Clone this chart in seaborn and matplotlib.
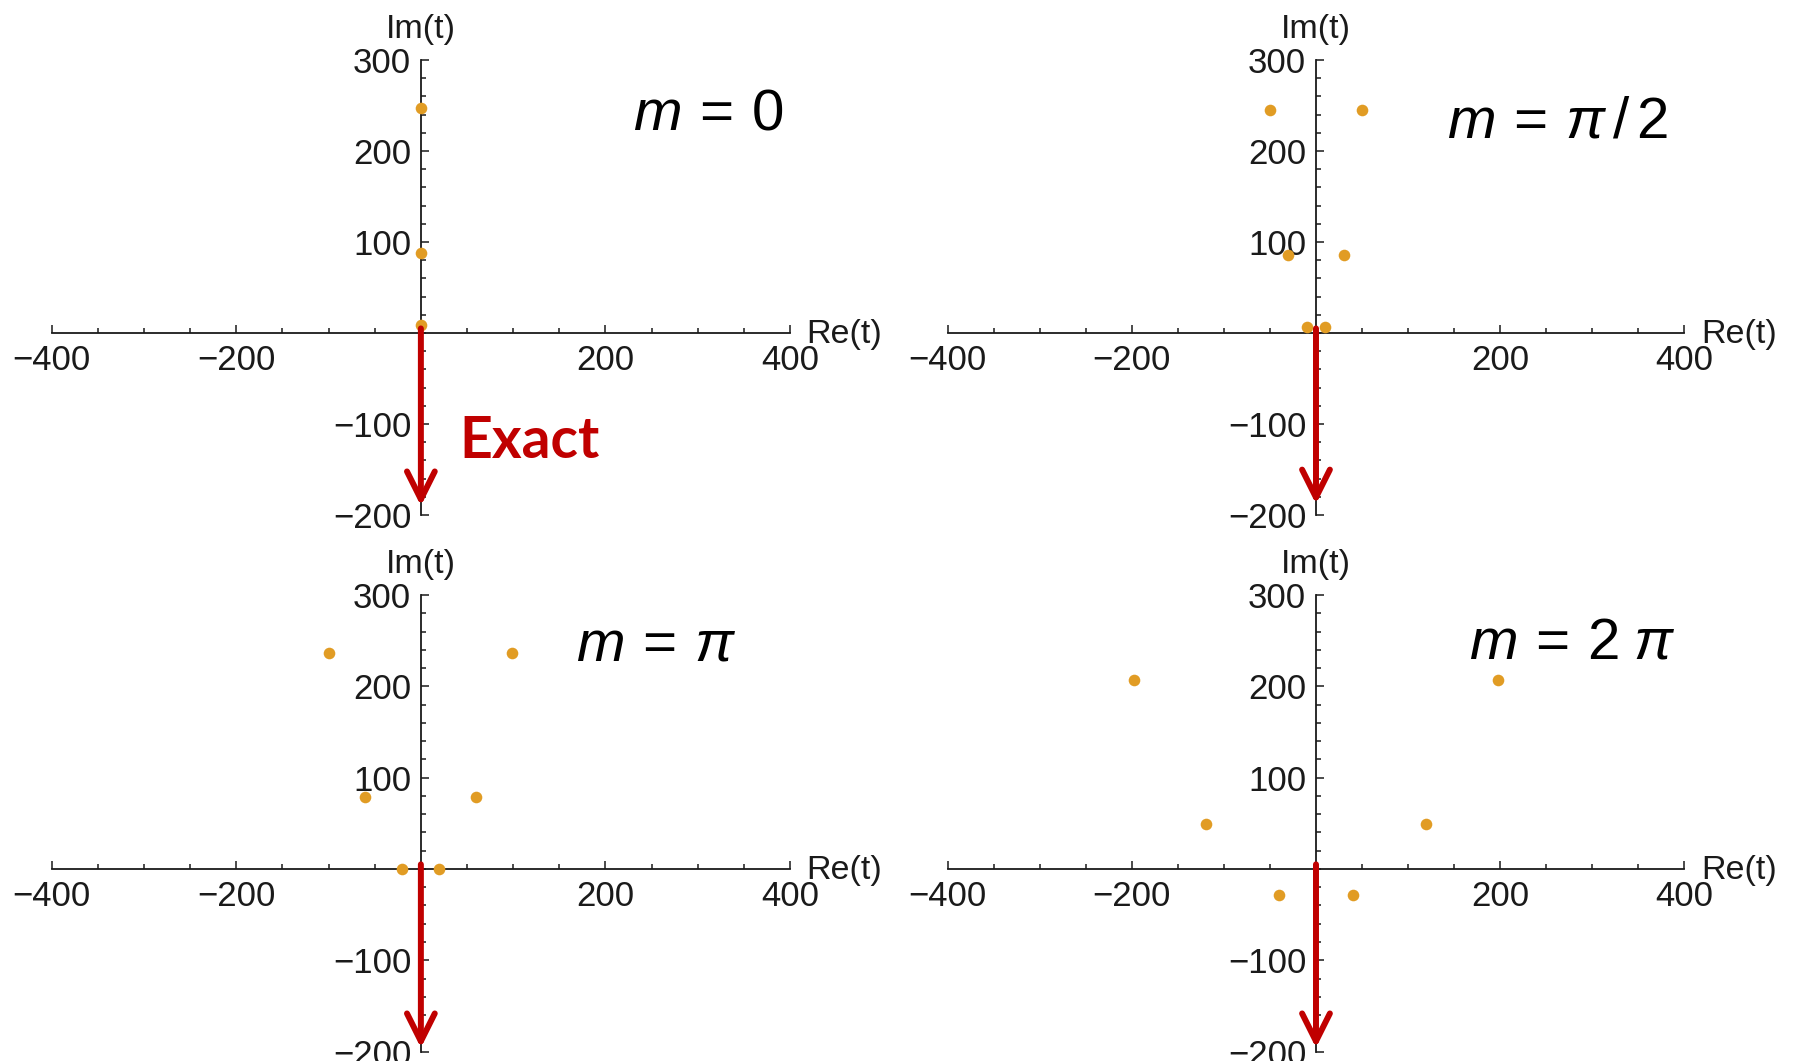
import numpy as np
import pandas as pd
import matplotlib
matplotlib.use("Agg")
import matplotlib.pyplot as plt
import seaborn as sns
from matplotlib.ticker import MultipleLocator

# roots of t in the complex plane for each m
re_m0 = [0, 0, 0]
im_m0 = [247, 88, 9]
re_m1 = [-50, 50, -30, 30, -10, 10]
im_m1 = [245, 245, 86, 86, 7, 7]
re_m2 = [-99, 99, -60, 60, -20, 20]
im_m2 = [237, 237, 79, 79, 0, 0]
re_m3 = [-198, 198, -119, 119, -40, 40]
im_m3 = [207, 207, 49, 49, -29, -29]

m_labels = [r"$m\, =\, 0$", r"$m\, =\, \pi\,/\,2$", r"$m\, =\, \pi$", r"$m\, =\, 2\;\pi$"]
arrow_tips = [-190, -188, -196, -196]

xticks = [-400, -200, 200, 400]
yticks = [-200, -100, 100, 200, 300]

dot_color = "#E19C24"
red = "#C00000"
ink = "#1a1a1a"

sns.set_theme(style="white")
plt.rcParams['font.family'] = ['Liberation Sans', 'DejaVu Sans']
plt.rcParams['mathtext.fontset'] = 'custom'
plt.rcParams['mathtext.rm'] = 'Liberation Sans'
plt.rcParams['mathtext.it'] = 'Liberation Sans:italic'


def fmt(v):
    return "\u2212" + str(abs(v)) if v < 0 else str(v)


fig = plt.figure(figsize=(17.94, 10.61), dpi=100)

rects = [
    [0.0288, 0.5146, 0.4116, 0.4289],
    [0.5282, 0.5146, 0.4107, 0.4289],
    [0.0288, 0.0089, 0.4116, 0.4303],
    [0.5282, 0.0089, 0.4107, 0.4303],
]
series = [(re_m0, im_m0), (re_m1, im_m1), (re_m2, im_m2), (re_m3, im_m3)]
label_xy = [(230, 224), (142, 215), (168, 228), (166, 231)]

for i in range(4):
    ax = fig.add_axes(rects[i])
    df = pd.DataFrame({"re": series[i][0], "im": series[i][1]})
    sns.scatterplot(data=df, x="re", y="im", ax=ax, color=dot_color, s=70,
                    linewidth=0, marker="o", clip_on=False, zorder=3)

    ax.set_xlim(-400, 400)
    ax.set_ylim(-200, 300)
    ax.set_xlabel("")
    ax.set_ylabel("")
    ax.set_facecolor("none")

    # axes through the origin
    for s in ["top", "right"]:
        ax.spines[s].set_visible(False)
    ax.spines["left"].set_position(("data", 0))
    ax.spines["bottom"].set_position(("data", 0))
    for s in ["left", "bottom"]:
        ax.spines[s].set_color(ink)
        ax.spines[s].set_linewidth(1.3)

    ax.set_xticks(xticks)
    ax.set_xticklabels([fmt(v) for v in xticks])
    ax.set_yticks(yticks)
    ax.set_yticklabels([fmt(v) for v in yticks])
    ax.xaxis.set_minor_locator(MultipleLocator(50))
    ax.yaxis.set_minor_locator(MultipleLocator(20))
    ax.tick_params(which="both", bottom=True, left=True, direction="in",
                   color=ink, width=1.1, labelsize=25, labelcolor=ink)
    ax.tick_params(which="major", length=5.8)
    ax.tick_params(which="minor", length=3.6)
    ax.tick_params(axis="x", pad=8)
    ax.tick_params(axis="y", pad=7)

    ax.annotate("Im(t)", xy=(0, 300), xytext=(0, 16), textcoords="offset points",
                ha="center", va="baseline", fontsize=24.5, color=ink)
    ax.annotate("Re(t)", xy=(400, 0), xytext=(12, -7), textcoords="offset points",
                ha="left", va="baseline", fontsize=24.5, color=ink)

    ax.text(label_xy[i][0], label_xy[i][1], m_labels[i], fontsize=42,
            ha="left", va="baseline", color="black")

    # exact result: straight down the imaginary axis
    ax.annotate("", xy=(0, arrow_tips[i]), xytext=(0, 5),
                arrowprops=dict(arrowstyle="->,head_length=1.0,head_width=0.5",
                                color=red, lw=4.3, shrinkA=0, shrinkB=0,
                                mutation_scale=20),
                zorder=5, annotation_clip=False)

    if i == 0:
        ax.text(42, -137, "Exact", fontsize=41, fontweight="bold",
                family=["Lato", "DejaVu Sans"], color=red,
                ha="left", va="baseline")

fig.savefig("out.png", dpi=100, facecolor="white")
